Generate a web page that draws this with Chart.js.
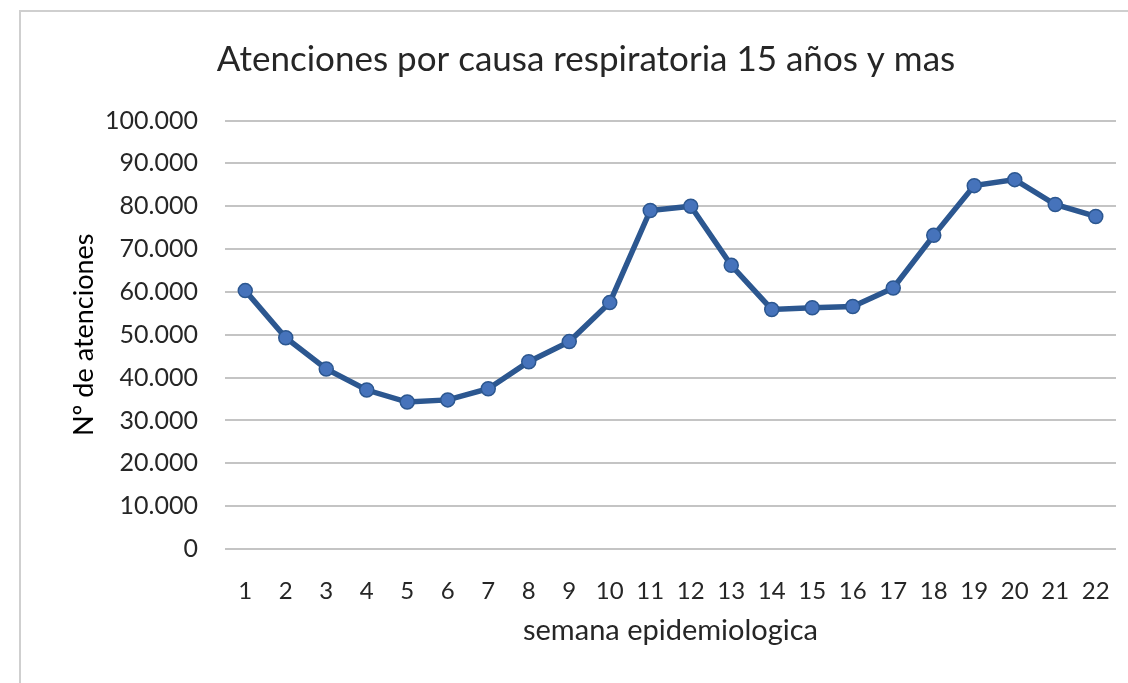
<!DOCTYPE html>
<html>
<head>
<meta charset="utf-8">
<script src="https://cdn.jsdelivr.net/npm/chart.js@4.4.1/dist/chart.umd.min.js"></script>
<style>
  html, body { margin: 0; padding: 0; background: #fff; }
  #wrap { position: relative; width: 1128px; height: 683px; overflow: hidden; }
  #frame {
    position: absolute; left: 19px; top: 10px; width: 1200px; height: 800px;
    border-left: 2px solid #cfcfcf; border-top: 2px solid #cfcfcf;
    pointer-events: none;
  }
  canvas { position: absolute; left: 0; top: 0; }
</style>
</head>
<body>
<div id="wrap">
  <canvas id="chart" width="1128" height="683"></canvas>
  <div id="frame"></div>
</div>
<script>
// semanas 1..22
const weeks = ["1", "2", "3", "4", "5", "6", "7", "8", "9", "10", "11",
  "12", "13", "14", "15", "16", "17", "18", "19", "20", "21", "22"];

// atenciones por semana
const attentions = [60300, 49300, 42000, 37100, 34300, 34800, 37400, 43700,
  48400, 57500, 79000, 80000, 66200, 55900, 56300, 56600, 60900, 73200,
  84800, 86200, 80400, 77600];

const yTicks = [0, 10000, 20000, 30000, 40000, 50000, 60000, 70000, 80000, 90000, 100000];

const fontFamily = "Lato, 'Open Sans', sans-serif";
const textColor = "#262626";
const gridColor = "#c4c4c4";
const lineColor = "#2c5790";
const markerFill = "#4673bb";

function formatThousands(v) {
  return String(v).replace(/\B(?=(\d{3})+(?!\d))/g, ".");
}

const ctx = document.getElementById("chart").getContext("2d");

new Chart(ctx, {
  type: "line",
  data: {
    labels: weeks,
    datasets: [
      {
        label: "Atenciones",
        data: attentions,
        borderColor: lineColor,
        borderWidth: 5.5,
        pointRadius: 7,
        pointBackgroundColor: markerFill,
        pointBorderColor: lineColor,
        pointBorderWidth: 1.5,
        tension: 0,
      },
    ],
  },
  options: {
    responsive: false,
    animation: false,
    // left padding shifts the title centre to match the original
    layout: { padding: { top: 40, left: 56, right: 12, bottom: 0 } },
    scales: {
      x: {
        offset: true,
        grid: { display: false, drawTicks: false },
        border: { display: false },
        ticks: {
          color: textColor,
          padding: 28,
          maxRotation: 0,
          autoSkip: false,
          font: { family: fontFamily, size: 24 },
        },
        title: {
          display: true,
          text: "semana epidemiologica",
          color: textColor,
          padding: { top: 0, bottom: 35 },
          font: { family: fontFamily, size: 29 },
        },
        afterFit: (scale) => {
          scale.height = 134;
          // tick padding would otherwise be added left/right of the axis
          scale.paddingLeft = 0;
          scale.paddingRight = 0;
        },
      },
      y: {
        min: 0,
        max: 100000,
        afterBuildTicks: (scale) => {
          scale.ticks = yTicks.map((v) => ({ value: v }));
        },
        grid: { color: gridColor, lineWidth: 2, drawTicks: false },
        border: { display: false },
        ticks: {
          color: textColor,
          padding: 27,
          callback: (v) => formatThousands(v),
          font: { family: fontFamily, size: 25 },
        },
        title: {
          display: true,
          text: "Nº de atenciones",
          color: "#000",
          padding: { top: 12, bottom: 0 },
          font: { family: fontFamily, size: 27 },
        },
        afterFit: (scale) => { scale.width = 169; },
      },
    },
    plugins: {
      legend: { display: false },
      tooltip: { enabled: false },
      title: {
        display: true,
        text: "Atenciones por causa respiratoria 15 años y mas",
        color: textColor,
        padding: { top: 0, bottom: 42 },
        font: { family: fontFamily, size: 35, weight: "normal", lineHeight: 1.1 },
      },
    },
  },
});
</script>
</body>
</html>
